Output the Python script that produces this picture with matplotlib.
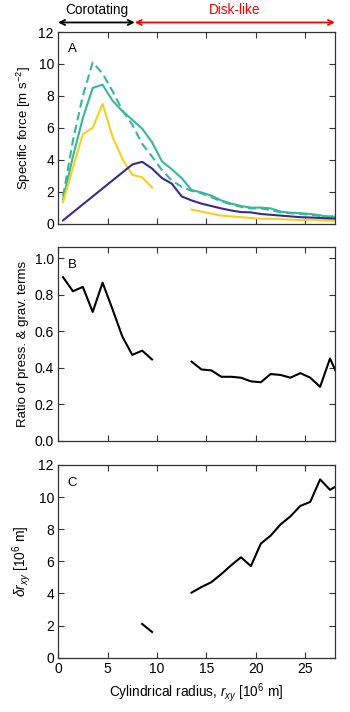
import numpy as np
import matplotlib
matplotlib.use("Agg")
import matplotlib.pyplot as plt

plt.rcParams['font.family'] = ['Liberation Sans', 'DejaVu Sans']
plt.rcParams['mathtext.fontset'] = 'custom'
plt.rcParams['mathtext.rm'] = 'Liberation Sans'
plt.rcParams['mathtext.it'] = 'Liberation Sans:italic'
plt.rcParams['mathtext.bf'] = 'Liberation Sans:bold'

# ---------------- data ----------------
nan = np.nan
# Panel A: specific forces
x_teal = [0.5, 1.5, 2.5, 3.5, 4.5, 5.5, 6.5, 7.5, 8.5, 9.5, 10.5, 11.5, 12.5, 13.5,
          14.5, 15.5, 16.5, 17.5, 18.5, 19.5, 20.5, 21.5, 22.5, 23.5, 24.5, 25.5,
          26.5, 27.5, 28.5]
teal_solid = [1.5, 4.2, 6.6, 8.5, 8.7, 7.7, 7.05, 6.5, 5.95, 5.1, 3.9, 3.4, 2.85, 2.1,
              1.95, 1.75, 1.45, 1.25, 1.1, 1.0, 1.0, 0.95, 0.75, 0.68, 0.65, 0.6,
              0.52, 0.38, 0.5]
teal_dashed = [1.7, 5.2, 8.0, 10.1, 9.4, 8.3, 7.1, 6.2, 5.0, 4.2, 3.35, 2.7, 2.3, 2.05,
               1.9, 1.65, 1.4, 1.2, 1.05, 0.95, 0.95, 0.85, 0.7, 0.65, 0.6, 0.55,
               0.48, 0.45, 0.5]
x_yellow = [0.5, 1.5, 2.5, 3.5, 4.5, 5.5, 6.5, 7.5, 8.5, 9.5, 10.5, 11.5, 12.5, 13.5,
            14.5, 15.5, 16.5, 17.5, 18.5, 19.5, 20.5, 21.5, 22.5, 23.5, 24.5, 25.5,
            26.5, 27.5, 28.5]
yellow = [1.35, 3.5, 5.6, 6.0, 7.5, 5.45, 4.05, 3.05, 2.9, 2.25, nan, nan, nan, 0.88,
          0.75, 0.62, 0.5, 0.45, 0.4, 0.35, 0.3, 0.3, 0.28, 0.25, 0.22, 0.25,
          0.2, 0.18, 0.17]
x_purple = [0.5, 7.5, 8.5, 9.5, 10.5, 11.5, 12.5, 13.5, 14.5, 15.5, 16.5, 17.5,
            18.5, 19.5, 20.5, 21.5, 22.5, 23.5, 24.5, 25.5, 26.5, 27.5, 28.5]
purple = [0.2, 3.7, 3.87, 3.45, 2.85, 2.5, 1.7, 1.45, 1.25, 1.1, 0.95, 0.82,
          0.72, 0.7, 0.6, 0.55, 0.5, 0.45, 0.4, 0.38, 0.35, 0.32, 0.3]

# Panel B: ratio of pressure & gravity terms
x_b = [0.5, 1.5, 2.5, 3.5, 4.5, 5.5, 6.5, 7.5, 8.5, 9.5, 10.5, 11.5, 12.5, 13.5,
       14.5, 15.5, 16.5, 17.5, 18.5, 19.5, 20.5, 21.5, 22.5, 23.5, 24.5, 25.5,
       26.5, 27.5, 28.5]
ratio = [0.895, 0.818, 0.842, 0.705, 0.865, 0.72, 0.57, 0.47, 0.493, 0.445, nan, nan, nan, 0.433,
         0.39, 0.385, 0.35, 0.35, 0.345, 0.325, 0.32, 0.365, 0.36, 0.345, 0.37, 0.345,
         0.295, 0.45, 0.33]

# Panel C: delta r_xy
x_c = [8.5, 9.5, 10.5, 11.5, 12.5, 13.5, 14.5, 15.5, 16.5, 17.5, 18.5, 19.5, 20.5,
       21.5, 22.5, 23.5, 24.5, 25.5, 26.5, 27.5, 28.5]
delta = [2.1, 1.6, nan, nan, nan, 4.05, 4.4, 4.7, 5.2, 5.75, 6.25, 5.7, 7.1,
         7.6, 8.3, 8.8, 9.45, 9.7, 11.1, 10.45, 10.8]

a_ticks = [0, 2, 4, 6, 8, 10, 12]
b_ticks = [0.0, 0.2, 0.4, 0.6, 0.8, 1.0]
c_ticks = [0, 2, 4, 6, 8, 10, 12]
x_ticks = [0, 5, 10, 15, 20, 25]

teal = '#35b99a'
yel = '#f7d01c'
pur = '#3b2a8c'

fig = plt.figure(figsize=(3.5, 7.12), dpi=100)
L, W = 0.166, 0.791
axA = fig.add_axes([L, 0.686, W, 0.269])
axB = fig.add_axes([L, 0.381, W, 0.272])
axC = fig.add_axes([L, 0.0763, W, 0.2707])

lfs = 9.5
lw = 1.5
axA.plot(x_teal, teal_dashed, color=teal, lw=lw, ls=(0, (4, 2.2)))
axA.plot(x_teal, teal_solid, color=teal, lw=lw)
axA.plot(x_yellow, yellow, color=yel, lw=lw)
axA.plot(x_purple, purple, color=pur, lw=lw)
axA.set_ylim(0, 12)
axA.set_yticks(a_ticks)
axA.set_ylabel(r'Specific force [m s$^{-2}$]', fontsize=lfs)

axB.plot(x_b, ratio, color='black', lw=lw)
axB.set_ylim(0, 1.06)
axB.set_yticks(b_ticks)
axB.set_yticklabels(['%.1f' % t for t in b_ticks])
axB.set_ylabel('Ratio of press. & grav. terms', fontsize=lfs)

axC.plot(x_c, delta, color='black', lw=lw)
axC.set_ylim(0, 12)
axC.set_yticks(c_ticks)
axC.set_ylabel(r'$\delta r_{xy}$ [10$^6$ m]', fontsize=lfs + 0.5)
axC.set_xlabel(r'Cylindrical radius, $r_{xy}$ [10$^6$ m]', fontsize=lfs + 0.3)

for ax, lab, ty in [(axA, 'A', 0.91), (axB, 'B', 0.906), (axC, 'C', 0.905)]:
    ax.set_xlim(0, 28)
    ax.set_xticks(x_ticks)
    ax.tick_params(direction='in', top=True, right=True, labelsize=10, length=4, width=0.8,
                   color='#333333', pad=3)
    for s in ax.spines.values():
        s.set_color('#333333')
        s.set_linewidth(0.9)
    ax.text(0.035, ty, lab, transform=ax.transAxes, fontsize=9.5, ha='left', va='center')
axA.tick_params(labelbottom=False)
axB.tick_params(labelbottom=False)

# regime arrows above panel A
split = 7.75
yarr = 12.6
axA.annotate('', xy=(0, yarr), xytext=(split, yarr), xycoords='data',
             arrowprops=dict(arrowstyle='<->', color='black', lw=1.3,
                             shrinkA=0, shrinkB=0, mutation_scale=9),
             annotation_clip=False)
axA.annotate('', xy=(split, yarr), xytext=(28, yarr), xycoords='data',
             arrowprops=dict(arrowstyle='<->', color='red', lw=1.3,
                             shrinkA=0, shrinkB=0, mutation_scale=9),
             annotation_clip=False)
axA.text(split / 2, 13.35, 'Corotating', ha='center', va='center', fontsize=9.8,
         color='black', clip_on=False)
axA.text((split + 28) / 2, 13.35, 'Disk-like', ha='center', va='center', fontsize=9.8,
         color='red', clip_on=False)

fig.savefig('out.png', dpi=100)
